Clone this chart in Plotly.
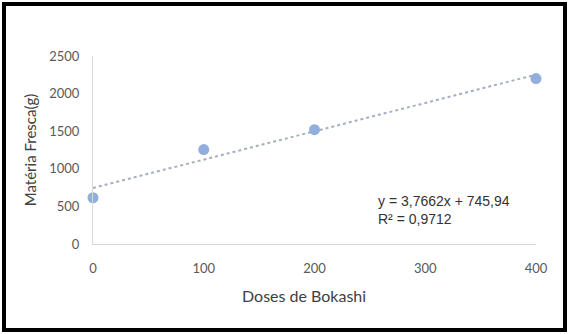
import plotly.graph_objects as go

doses = [0, 100, 200, 400]
materia_fresca = [615, 1255, 1520, 2200]

slope = 3.7662
intercept = 745.94
r2 = 0.9712
trend_x = [0, 400]
trend_y = [intercept + slope * x for x in trend_x]

x_ticks = [0, 100, 200, 300, 400]
y_ticks = [0, 500, 1000, 1500, 2000, 2500]

fig = go.Figure()
fig.add_trace(go.Scatter(
    x=trend_x, y=trend_y, mode="lines",
    line=dict(color="#A6AEBF", width=2, dash="dot"),
    hoverinfo="skip", showlegend=False, cliponaxis=False,
))
fig.add_trace(go.Scatter(
    x=doses, y=materia_fresca, mode="markers",
    marker=dict(color="#92AEDC", size=11),
    showlegend=False, cliponaxis=False,
))

tick_font = dict(family="Lato, Liberation Sans, sans-serif", size=13, color="#595959")
title_font_y = dict(family="Lato, Liberation Sans, sans-serif", size=15, color="#404040")
title_font_x = dict(family="Lato, Liberation Sans, sans-serif", size=16, color="#404040")

fig.update_xaxes(
    range=[0, 400], tickvals=x_ticks, ticktext=[str(v) for v in x_ticks],
    showgrid=False, zeroline=False, showline=True, linecolor="#D9D9D9", linewidth=1,
    ticks="", tickfont=tick_font, ticklabelstandoff=12,
)
fig.update_yaxes(
    range=[0, 2500], tickvals=y_ticks, ticktext=[str(v) for v in y_ticks],
    showgrid=False, zeroline=False, showline=True, linecolor="#D9D9D9", linewidth=1,
    ticks="", tickfont=tick_font, ticklabelstandoff=10,
    title=dict(text="Matéria Fresca(g)", font=title_font_y, standoff=8),
)

# x-axis title (positioned as in the reference)
fig.add_annotation(
    x=(304 - 93) / 443, y=(244 - 295) / 188, xref="paper", yref="paper",
    xanchor="center", yanchor="middle", text="Doses de Bokashi",
    showarrow=False, font=title_font_x,
)

eq_font = dict(family="Liberation Sans, Arial, sans-serif", size=14, color="#333333")
eq_text = (f"y = {slope:.4f}x + {intercept:.2f}".replace(".", ",")
           + "<br>" + f"R² = {r2:.4f}".replace(".", ","))
fig.add_annotation(
    x=(376 - 93) / 443, y=(244 - 209.5) / 188, xref="paper", yref="paper",
    xanchor="left", yanchor="middle", text=eq_text, align="left",
    showarrow=False, font=eq_font,
)

fig.add_shape(
    type="rect", xref="paper", yref="paper",
    x0=(4 - 93) / 443, x1=(565 - 93) / 443,
    y0=(244 - 330) / 188, y1=(244 - 4) / 188,
    line=dict(color="black", width=4), fillcolor="rgba(0,0,0,0)", layer="below",
)

fig.update_layout(
    width=568, height=334,
    margin=dict(l=93, r=32, t=56, b=90),
    plot_bgcolor="white", paper_bgcolor="white",
)

fig.write_html("out.html", config={"displayModeBar": False})

with open("out.html", "r", encoding="utf-8") as f:
    html = f.read()
html = html.replace("<head>", "<head><style>html,body{margin:0;padding:0;overflow:hidden;}</style>", 1)
with open("out.html", "w", encoding="utf-8") as f:
    f.write(html)
